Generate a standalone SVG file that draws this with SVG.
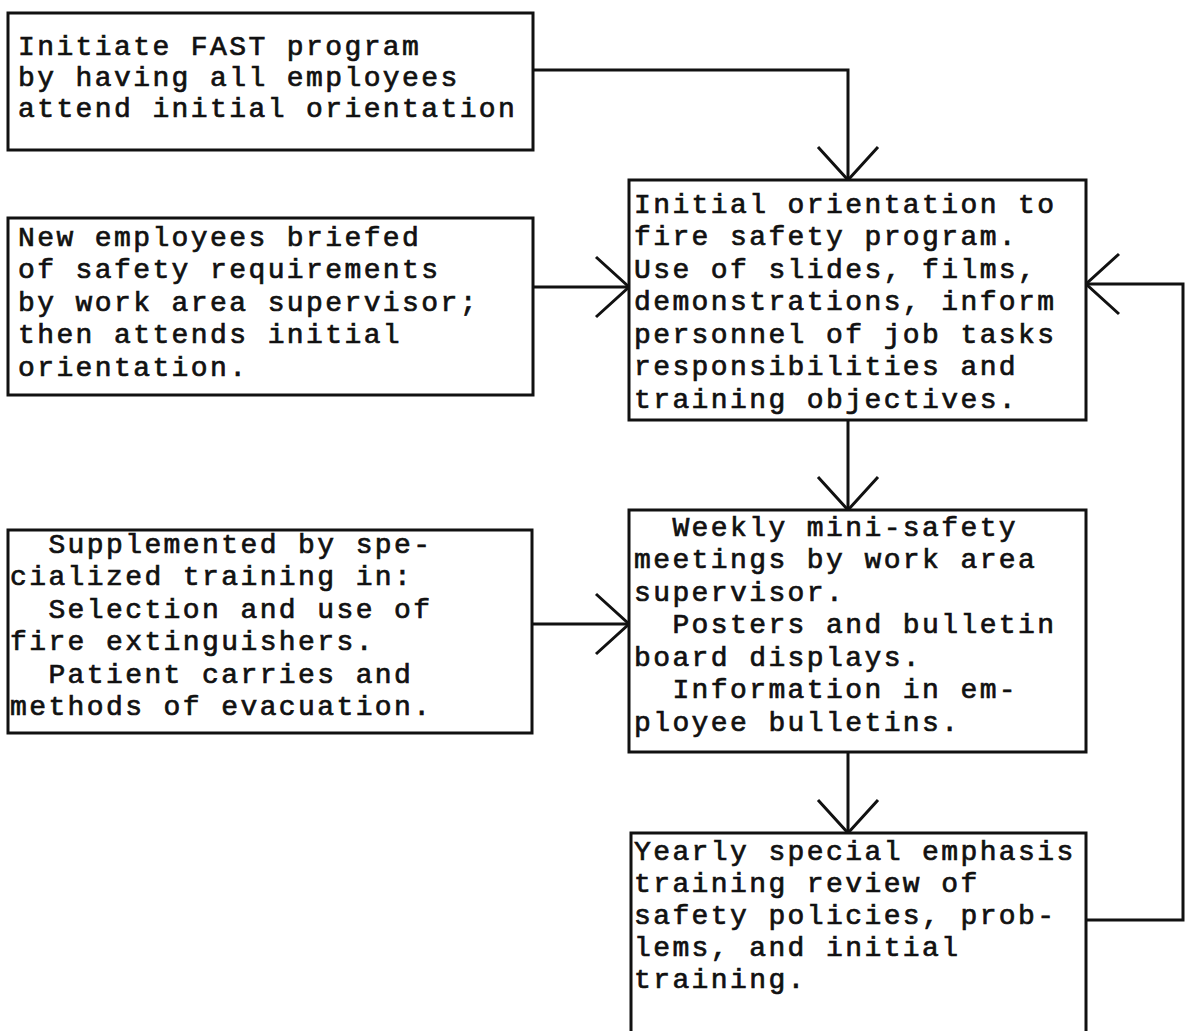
<svg xmlns="http://www.w3.org/2000/svg" width="1186" height="1031" viewBox="0 0 1186 1031">
<style>
.box{fill:#fff;stroke:#111;stroke-width:3}
.t{font-family:"Liberation Mono","Courier New",monospace;font-size:28px;letter-spacing:2.4px;fill:#111;stroke:#111;stroke-width:0.7px;white-space:pre}
.con{fill:none;stroke:#111;stroke-width:3}
</style>
<defs>
<marker id="v" markerUnits="userSpaceOnUse" viewBox="0 0 40 72" markerWidth="40" markerHeight="72" refX="37" refY="36" orient="auto" overflow="visible">
<path d="M 4 6 L 37 36 L 4 66" fill="none" stroke="#111" stroke-width="3"/>
</marker>
</defs>
<rect width="1186" height="1031" fill="#fff"/>
<g id="connectors">
<path class="con" d="M 533 70 H 848 V 180" marker-end="url(#v)"/>
<path class="con" d="M 533 287 H 629" marker-end="url(#v)"/>
<path class="con" d="M 848 420 V 510" marker-end="url(#v)"/>
<path class="con" d="M 532 624 H 629" marker-end="url(#v)"/>
<path class="con" d="M 848 752 V 833" marker-end="url(#v)"/>
<path class="con" d="M 1086 920 H 1183 V 284 H 1086" marker-end="url(#v)"/>
</g>
<g id="n1">
<rect class="box" x="8" y="13" width="525" height="137"/>
<text class="t" x="18" y="55">Initiate FAST program</text>
<text class="t" x="18" y="86">by having all employees</text>
<text class="t" x="18" y="117">attend initial orientation</text>
</g>
<g id="n2">
<rect class="box" x="8" y="218" width="525" height="177"/>
<text class="t" x="18" y="246">New employees briefed</text>
<text class="t" x="18" y="278">of safety requirements</text>
<text class="t" x="18" y="311">by work area supervisor;</text>
<text class="t" x="18" y="343">then attends initial</text>
<text class="t" x="18" y="376">orientation.</text>
</g>
<g id="n3">
<rect class="box" x="8" y="530" width="524" height="203"/>
<text class="t" x="10" y="553">  Supplemented by spe-</text>
<text class="t" x="10" y="585">cialized training in:</text>
<text class="t" x="10" y="618">  Selection and use of</text>
<text class="t" x="10" y="650">fire extinguishers.</text>
<text class="t" x="10" y="683">  Patient carries and</text>
<text class="t" x="10" y="715">methods of evacuation.</text>
</g>
<g id="n4">
<rect class="box" x="629" y="180" width="457" height="240"/>
<text class="t" x="634" y="213">Initial orientation to</text>
<text class="t" x="634" y="245">fire safety program.</text>
<text class="t" x="634" y="278">Use of slides, films,</text>
<text class="t" x="634" y="310">demonstrations, inform</text>
<text class="t" x="634" y="343">personnel of job tasks</text>
<text class="t" x="634" y="375">responsibilities and</text>
<text class="t" x="634" y="408">training objectives.</text>
</g>
<g id="n5">
<rect class="box" x="629" y="510" width="457" height="242"/>
<text class="t" x="634" y="536">  Weekly mini-safety</text>
<text class="t" x="634" y="568">meetings by work area</text>
<text class="t" x="634" y="601">supervisor.</text>
<text class="t" x="634" y="633">  Posters and bulletin</text>
<text class="t" x="634" y="666">board displays.</text>
<text class="t" x="634" y="698">  Information in em-</text>
<text class="t" x="634" y="731">ployee bulletins.</text>
</g>
<g id="n6">
<rect class="box" x="631" y="833" width="455" height="230"/>
<text class="t" x="634" y="860">Yearly special emphasis</text>
<text class="t" x="634" y="892">training review of</text>
<text class="t" x="634" y="924">safety policies, prob-</text>
<text class="t" x="634" y="956">lems, and initial</text>
<text class="t" x="634" y="988">training.</text>
</g>
</svg>
